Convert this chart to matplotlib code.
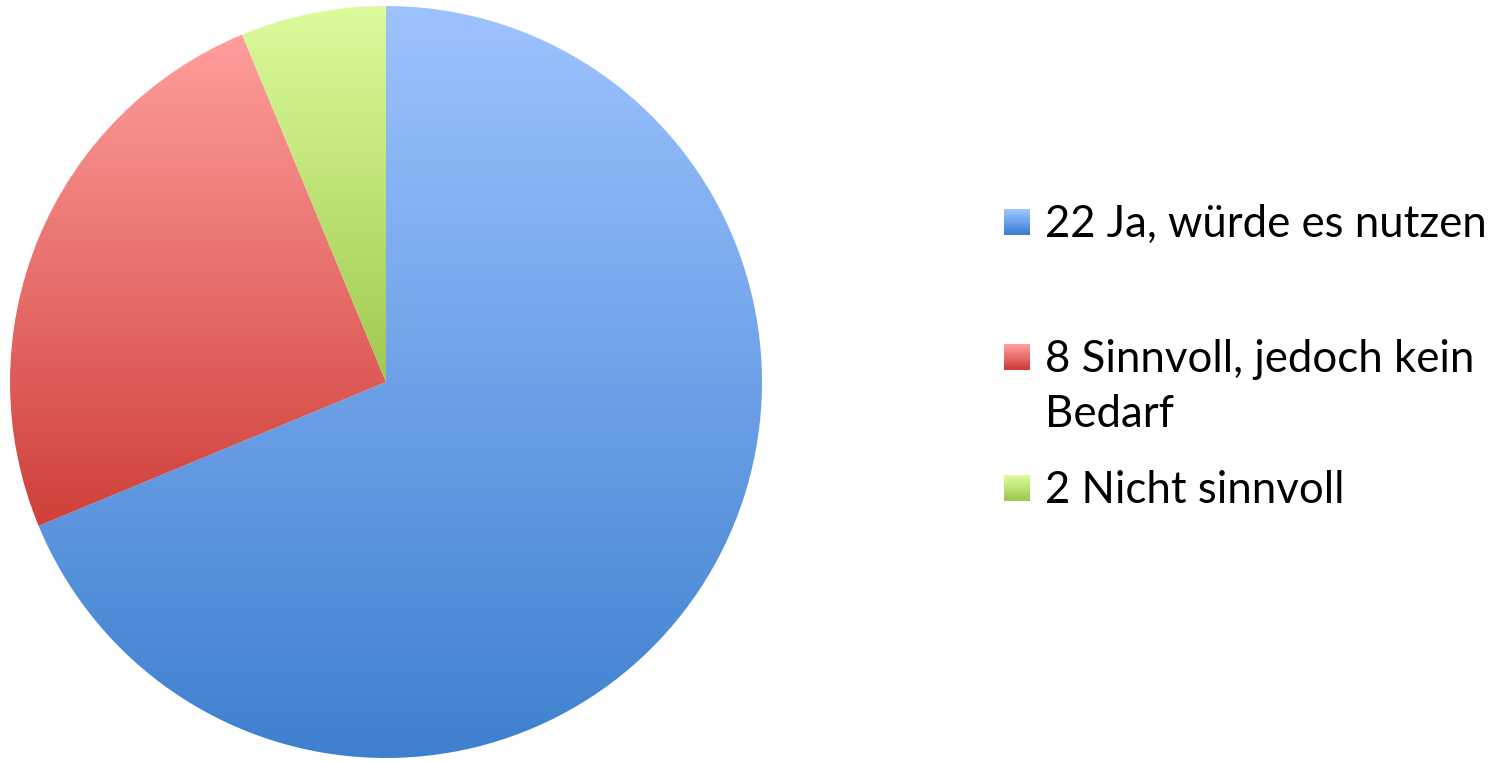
import numpy as np
import matplotlib.pyplot as plt
from matplotlib.colors import LinearSegmentedColormap, to_rgb
from matplotlib.patches import Rectangle

plt.rcParams['font.family'] = ['Lato', 'DejaVu Sans']

# survey answers
counts = [22, 8, 2]
answers = ["Ja, würde es nutzen", "Sinnvoll, jedoch kein\nBedarf", "Nicht sinnvoll"]
top_colors = ["#9dc3ff", "#ff9e9c", "#dcfc9c"]
bottom_colors = ["#3e80cf", "#cf403a", "#9fc94f"]

W, H = 1507, 761
fig = plt.figure(figsize=(W / 100, H / 100), dpi=100)
ax = fig.add_axes([10 / W, 3 / H, 752 / W, 752 / H])

wedges, _ = ax.pie(counts, startangle=90, counterclock=False)

# vertical gradient inside every slice
grad = np.linspace(0, 1, 256).reshape(-1, 1)
for w, c_top, c_bot in zip(wedges, top_colors, bottom_colors):
    x0, y0, x1, y1 = w.get_path().get_extents().extents
    cmap = LinearSegmentedColormap.from_list("g", [c_bot, c_top])
    im = ax.imshow(grad, cmap=cmap, origin="lower", extent=(x0, x1, y0, y1),
                   aspect="auto", interpolation="bicubic")
    im.set_clip_path(w)
    w.set_facecolor("none")
    w.set_edgecolor("none")

ax.set_xlim(-1, 1)
ax.set_ylim(-1, 1)
ax.set_aspect("equal")
ax.axis("off")

# legend, drawn by hand so the marker sits on the first line
label_y = [222, 357, 488]
size = 26
steps = 12
for n, text, y, c_top, c_bot in zip(counts, answers, label_y, top_colors, bottom_colors):
    ct, cb = np.array(to_rgb(c_top)), np.array(to_rgb(c_bot))
    for i in range(steps):
        t = i / (steps - 1)
        col = ct * (1 - t) + cb * t
        fig.add_artist(Rectangle((1004 / W, (H - (y - size / 2) - (i + 1) * size / steps) / H),
                                 size / W, size / steps / H + 0.0005,
                                 transform=fig.transFigure, facecolor=col, edgecolor="none"))
    fig.text(1045 / W, (H - y + 18) / H, f"{n} {text}", fontsize=31.5, va="top",
             ha="left", linespacing=1.42, color="black")

fig.savefig("out.png", dpi=100, facecolor="white")
